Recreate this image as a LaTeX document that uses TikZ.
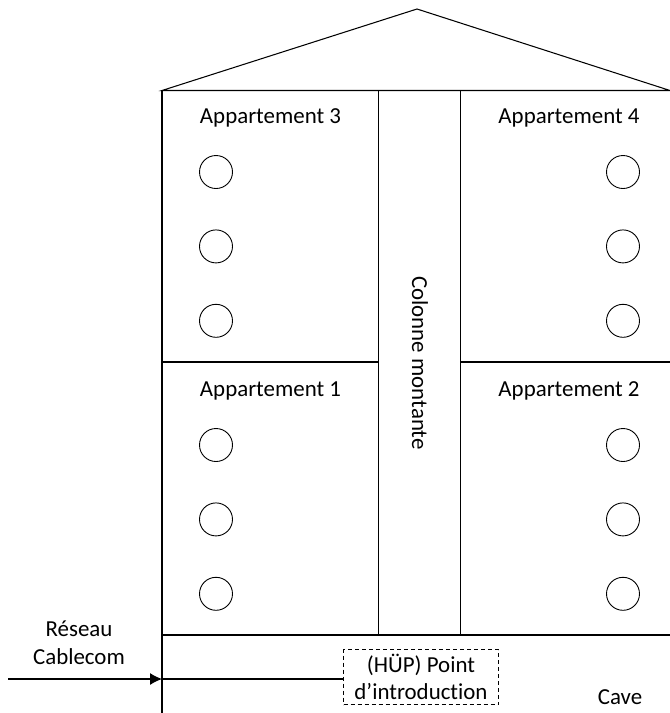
\documentclass[tikz,border=0pt]{standalone}
\usepackage{fontspec}
\setmainfont{Carlito}[Ligatures=NoCommon]
\usetikzlibrary{arrows.meta, positioning}

\begin{document}
\begin{tikzpicture}[
    x=1pt, y=-1pt,
    node distance=40.5pt and 0pt,
    wall/.style={line width=1.05pt, color=black},
    socket/.style={circle, draw, line width=0.9pt, minimum size=33pt, inner sep=0pt},
    caption/.style={font=\fontsize{22.9}{27.5}\selectfont, inner sep=0pt, align=center},
    arrow/.style={-{Latex[length=12pt,width=12pt]}, line width=1.05pt}
]
    \useasboundingbox (0,0) rectangle (670,713);

    % --- House outline ---
    \coordinate (eave-l) at (162,90.5);
    \coordinate (eave-r) at (670,90.5);
    \coordinate (apex) at (417,9);
    \coordinate (base-l) at (162,713);
    \draw[wall] (eave-l) -- (apex) -- (eave-r) -- cycle;
    \draw[wall] (eave-l) -- (base-l);

    % Riser and floors
    \draw[wall] (378.5,90.5) -- (378.5,635);
    \draw[wall] (460.5,90.5) -- (460.5,635);
    \draw[wall] (162,362) -- (378.5,362);
    \draw[wall] (460.5,362) -- (670,362);
    \draw[wall] (162,635) -- (670,635);

    % --- Apartments ---
    \node[caption] (apt3) at (270.5,118) {Appartement 3};
    \node[caption] (apt4) at (569,118) {Appartement 4};
    \node[caption] (apt1) at (270.5,391) {Appartement 1};
    \node[caption] (apt2) at (569,391) {Appartement 2};

    \node[caption, rotate=-90] (riser) at (420,363) {Colonne montante};

    % --- Sockets ---
    \node[socket] (s3a) at (216,172) {};
    \node[socket, below=of s3a] (s3b) {};
    \node[socket, below=of s3b] (s3c) {};
    \node[socket] (s4a) at (623,172) {};
    \node[socket, below=of s4a] (s4b) {};
    \node[socket, below=of s4b] (s4c) {};
    \node[socket] (s1a) at (216,445) {};
    \node[socket, below=of s1a] (s1b) {};
    \node[socket, below=of s1b] (s1c) {};
    \node[socket] (s2a) at (623,445) {};
    \node[socket, below=of s2a] (s2b) {};
    \node[socket, below=of s2b] (s2c) {};

    % --- Cellar ---
    \node[caption, draw, dash pattern=on 4pt off 3pt, line width=0.9pt, minimum width=155pt, minimum height=55pt] (hup) at (421,677) {(HÜP) Point\\d’introduction};
    \node[caption] (cave) at (620,697) {Cave};
    \node[caption] (net) at (79,643) {Réseau\\Cablecom};

    % --- Connections ---
    \coordinate (net-in) at (8,679);
    \coordinate (wall-in) at (162,679);
    \draw[arrow] (net-in) -- (wall-in);
    \draw[wall] (wall-in) -- (wall-in -| hup.west);
\end{tikzpicture}
\end{document}
